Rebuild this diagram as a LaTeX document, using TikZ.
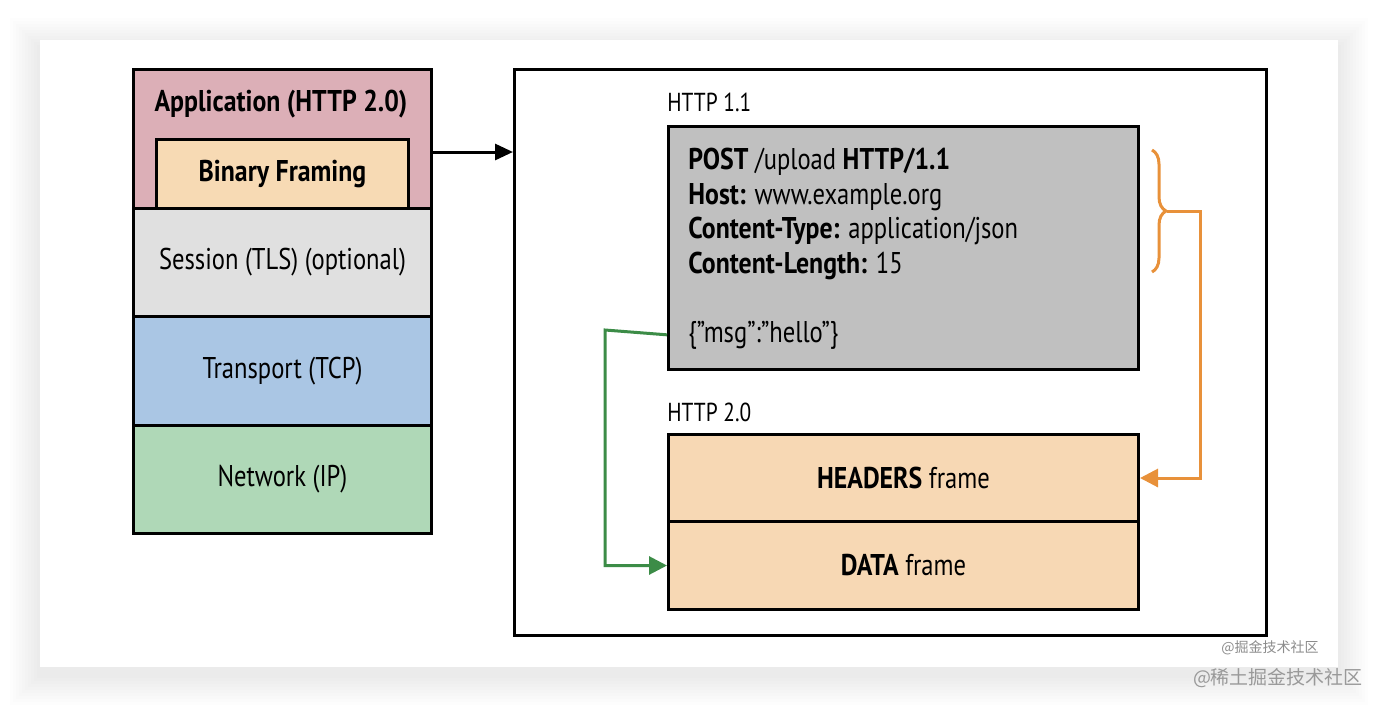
\documentclass[tikz,border=0pt]{standalone}
\usepackage{fontspec}
\setmainfont{PT Sans}[FakeStretch=0.82,BoldFeatures={FakeStretch=0.86}]
\newfontfamily\cjk{Noto Sans CJK SC}
\usetikzlibrary{positioning,decorations.pathreplacing,arrows.meta}
\definecolor{appcol}{HTML}{DCAFB7}
\definecolor{bincol}{HTML}{F7DAB4}
\definecolor{sescol}{HTML}{E0E0E0}
\definecolor{tcpcol}{HTML}{AAC6E4}
\definecolor{ipcol}{HTML}{AFD8B7}
\definecolor{msgcol}{HTML}{C0C0C0}
\definecolor{framecol}{HTML}{F7D8B4}
\definecolor{bracecol}{HTML}{E8913A}
\definecolor{datacol}{HTML}{3C8C47}
\begin{document}
\begin{tikzpicture}[x=0.5pt,y=-0.5pt]
		\tikzstyle{box}=[draw=black,line width=1.5pt,anchor=north west,inner sep=0pt]
		\tikzstyle{layer}=[box,minimum width=149pt]
		\tikzstyle{lbl}=[font=\fontsize{15}{18}\selectfont]
		\tikzstyle{head}=[font=\fontsize{13}{16}\selectfont,anchor=base west,inner sep=0pt]
		\tikzstyle{frm}=[box,fill=framecol,minimum width=235pt,font=\fontsize{15}{18}\selectfont]
		\tikzstyle{link}=[line width=1.5pt,-{Triangle[length=9pt,width=9pt]}]
		
		% Background and card
		\useasboundingbox (0,0) rectangle (1378,708);
		\fill[white] (0,0) rectangle (1378,708);
		\foreach \d in {30,27,...,3}
		\fill[black,opacity=0.006] (40-\d,40-\d+8) rectangle (1338+\d,667+\d+8);
		\fill[white] (40,40) rectangle (1338,667);
		
		% Draw the protocol stack
		\node[layer,fill=appcol,minimum height=69.5pt] (app) at (132,68) {};
		\node[lbl,font=\fontsize{15}{18}\selectfont\bfseries] (appl) at (281,104) {Application (HTTP 2.0)};
		\node[box,fill=bincol,minimum width=126pt,minimum height=34.5pt,font=\fontsize{15}{18}\selectfont\bfseries] (bin) at (155,138) {Binary Framing};
		\node[layer,fill=sescol,minimum height=54pt,font=\fontsize{15}{18}\selectfont] (ses) at (132,207) {Session (TLS) (optional)};
		\node[layer,fill=tcpcol,minimum height=54.5pt,font=\fontsize{15}{18}\selectfont] (tcp) at (132,315) {Transport (TCP)};
		\node[layer,fill=ipcol,minimum height=54pt,font=\fontsize{15}{18}\selectfont] (ip) at (132,424) {Network (IP)};
		
		% Outer frame
		\node[box,minimum width=376pt,minimum height=283pt] (frame) at (513,68) {};
		\draw[line width=1.5pt,-{Triangle[length=9pt,width=8pt]}] (app.east |- 0,152) -- (frame.west |- 0,152);
		
		% HTTP 1.1 message
		\node[head] (h11l) at (667,111) {HTTP 1.1};
		\node[box,fill=msgcol,minimum width=235pt,minimum height=121.5pt] (h11) at (667,125) {};
		\node[anchor=north west,align=left,inner sep=0pt,font=\fontsize{15}{17.25}\selectfont] (hdrs) at (688,148)
		{\textbf{POST} /upload \textbf{HTTP/1.1}\\
		 \textbf{Host:} www.example.org\\
		 \textbf{Content-Type:} application/json\\
		 \textbf{Content-Length:} 15};
		\node[anchor=base west,inner sep=0pt,font=\fontsize{15}{18}\selectfont] (msg) at (688,342) {\{"msg":"hello"\}};
		
		% HTTP 2.0 frames
		\node[head] (h20l) at (667,421) {HTTP 2.0};
		\node[frm,minimum height=43.5pt] (hdr) at (667,433) {\textbf{HEADERS} frame};
		\node[frm,minimum height=44pt] (data) at (667,520) {\textbf{DATA} frame};
		
		% Connect the headers and the body to the frames
		\draw[bracecol,line width=1.5pt,decorate,decoration={brace,amplitude=7pt}] (1152,150) -- (1152,272);
		\coordinate (btip) at (1167,211);
		\draw[bracecol,link] (btip) -- (1200,211) |- (hdr.east);
		\draw[datacol,link] (msg.west -| h11.west) -- (605,330) |- (data.west);
		
		% Watermarks
		\node[text=black!45,font=\cjk\fontsize{7}{8}\selectfont] (wm1) at (1270,648) {@掘金技术社区};
		\node[text=black!40,font=\cjk\fontsize{9.5}{11}\selectfont] (wm2) at (1278,678) {@稀土掘金技术社区};
	\end{tikzpicture}
\end{document}
